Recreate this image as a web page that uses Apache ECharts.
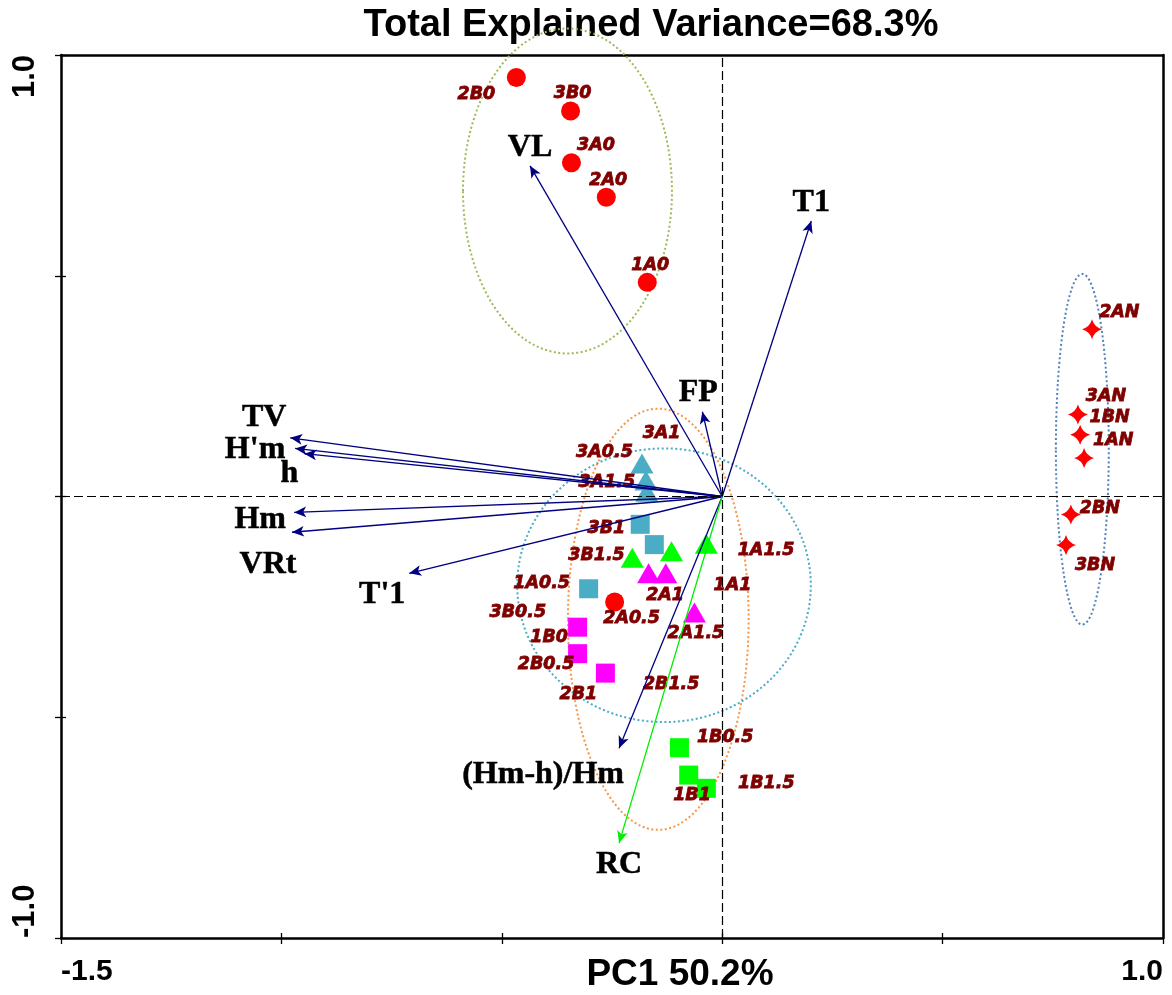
<!DOCTYPE html>
<html>
<head>
<meta charset="utf-8">
<title>PCA biplot</title>
<script src="https://cdn.jsdelivr.net/npm/echarts@6/dist/echarts.min.js"></script>
<style>
  html, body { margin: 0; padding: 0; background: #ffffff; }
  #chart { width: 1172px; height: 995px; }
</style>
</head>
<body>
<div id="chart"></div>
<script>
// ---- sample scores (PC1, PC2) by group ----
const ctrlNames = ['2B0', '3B0', '3A0', '2A0', '1A0', '1B0'];
const ctrlPC1 = [-0.467, -0.344, -0.342, -0.263, -0.170, -0.244];
const ctrlPC2 = [0.949, 0.873, 0.756, 0.678, 0.485, -0.239];

const a3Names = ['3A1', '3A0.5', '3A1.5'];
const a3PC1 = [-0.182, -0.173, -0.171];
const a3PC2 = [0.075, 0.036, 0.011];

const b3Names = ['3B1', '3B1.5', '3B0.5'];
const b3PC1 = [-0.186, -0.154, -0.303];
const b3PC2 = [-0.063, -0.109, -0.209];

const a1Names = ['1A0.5', '1A1', '1A1.5'];
const a1PC1 = [-0.204, -0.115, -0.036];
const a1PC2 = [-0.139, -0.124, -0.107];

const a2Names = ['2A0.5', '2A1', '2A1.5'];
const a2PC1 = [-0.167, -0.128, -0.063];
const a2PC2 = [-0.174, -0.174, -0.263];

const b2Names = ['2B0.5', '2B1', '2B1.5'];
const b2PC1 = [-0.328, -0.328, -0.265];
const b2PC2 = [-0.296, -0.356, -0.400];

const b1Names = ['1B0.5', '1B1', '1B1.5'];
const b1PC1 = [-0.097, -0.076, -0.036];
const b1PC2 = [-0.569, -0.631, -0.661];

const nNames = ['2AN', '3AN', '1BN', '1AN', '2BN', '3BN'];
const nPC1 = [0.839, 0.807, 0.812, 0.821, 0.791, 0.780];
const nPC2 = [0.379, 0.186, 0.140, 0.087, -0.041, -0.110];

// ---- variable loadings ----
const loadingNames = ['VL', 'T1', 'FP', 'TV', "H'm", 'h', 'Hm', 'VRt', "T'1", '(Hm-h)/Hm', 'RC'];
const loadingPC1 = [-0.436, 0.202, -0.045, -0.980, -0.969, -0.948, -0.971, -0.976, -0.710, -0.234, -0.234];
const loadingPC2 = [0.749, 0.624, 0.192, 0.133, 0.109, 0.097, -0.036, -0.081, -0.174, -0.570, -0.785];

// ---- group ellipses (centre and semi-axes, in score units) ----
const ellipseCenterPC1 = [-0.351, -0.145, -0.132, 0.817];
const ellipseCenterPC2 = [0.692, -0.278, -0.201, 0.107];
const ellipseRadiusPC1 = [0.237, 0.205, 0.333, 0.060];
const ellipseRadiusPC2 = [0.368, 0.477, 0.310, 0.397];

// ---- tick labels ----
const xTickValues = [-1.5, 1.0];
const xTickText = ['-1.5', '1.0'];
const yTickValues = [-1.0, 1.0];
const yTickText = ['-1.0', '1.0'];

// ---- text ----
const chartTitle = 'Total Explained Variance=68.3%';
const xAxisTitle = 'PC1 50.2%';
const yAxisTitle = 'PC2 18.1%';

// ---- styling (kept apart from the data) ----
const ellipseColors = ['#9bbb59', '#f79646', '#4bacc6', '#4f81bd'];

// label placement relative to each marker, in pixels
const sampleNudge = {
  '2B0': [-40, 17], '3B0': [2, -17.5], '3A0': [24.5, -17], '2A0': [2, -16.6], '1A0': [3, -16.7], '1B0': [-65.6, 35],
  '3A1': [19.6, -30], '3A0.5': [-41.5, -27.8], '3A1.5': [-40, -8.8],
  '3B1': [-33.8, 3.8], '3B1.5': [-57.8, 11], '3B0.5': [-70.8, 23.4],
  '1A0.5': [-90.6, 26], '1A1': [61, 34], '1A1.5': [59.7, 6.7],
  '2A0.5': [-17, 45.3], '2A1': [-0.7, 21.8], '2A1.5': [1.5, 21.3],
  '2B0.5': [-31.5, 37], '2B1': [0.7, 40.7], '2B1.5': [65.8, 11.3],
  '1B0.5': [45.7, -10], '1B1': [3.3, 20], '1B1.5': [60, -5],
  '2AN': [27.3, -16.6], '3AN': [28, -18], '1BN': [29.5, -17], '1AN': [29.2, -17.7], '2BN': [29, -5.7], '3BN': [29, 20.3]
};
const loadingNudge = {
  'VL': [0, -18], 'T1': [0, -18], 'FP': [-4, -19], 'TV': [-26, -20], "H'm": [-40, 1], 'h': [-15, 20],
  'Hm': [-34, 7.5], 'VRt': [-24, 32], "T'1": [-27, 21], '(Hm-h)/Hm': [-76, 27], 'RC': [0, 22]
};

const STAR = 'path://M0,-10 Q2.2,-2.2 10,0 Q2.2,2.2 0,10 Q-2.2,2.2 -10,0 Q-2.2,-2.2 0,-10 Z';

function pickTick(values, texts) {
  return function (v) {
    for (let i = 0; i < values.length; i++) {
      if (Math.abs(v - values[i]) < 1e-9) return texts[i];
    }
    return '';
  };
}

function points(names, pc1, pc2) {
  return names.map((n, i) => ({ name: n, value: [pc1[i], pc2[i]], label: { offset: sampleNudge[n] } }));
}

const sampleLabel = {
  show: true, position: 'inside', formatter: '{b}', color: '#800000',
  textBorderWidth: 0.8, textBorderColor: '#800000',
  fontFamily: 'DejaVu Sans', fontWeight: 'bold', fontStyle: 'italic', fontSize: 17.5
};

function sampleSeries(name, data, symbol, size, color) {
  return {
    name, type: 'scatter', data, symbol, symbolSize: size,
    itemStyle: { color: color, opacity: 1 },
    label: sampleLabel, z: 3, silent: true
  };
}

const boldSans = { fontFamily: 'Liberation Sans', fontWeight: 'bold', color: '#000' };
const axisLineStyle = { color: '#000', width: 2.5 };
const tickStyle = { color: '#000', width: 1.3 };

const chart = echarts.init(document.getElementById('chart'), null, { renderer: 'canvas' });

chart.setOption({
  animation: false,
  backgroundColor: '#ffffff',
  grid: { left: 61, right: 9, top: 55, bottom: 57, containLabel: false, outerBoundsMode: 'none' },
  xAxis: [
    {
      type: 'value', min: -1.5, max: 1.0, interval: 0.5, position: 'bottom',
      axisLine: { show: true, onZero: false, lineStyle: axisLineStyle },
      axisTick: { show: true, length: 6, lineStyle: tickStyle },
      splitLine: { show: false },
      axisLabel: Object.assign({
        margin: 19, fontSize: 30, formatter: pickTick(xTickValues, xTickText),
        alignMinLabel: 'left', alignMaxLabel: 'right'
      }, boldSans)
    },
    {
      type: 'value', min: -1.5, max: 1.0, interval: 0.5, position: 'bottom',
      axisLine: { show: false, onZero: false },
      axisTick: { show: true, inside: true, length: 5, lineStyle: tickStyle },
      splitLine: { show: false }, axisLabel: { show: false }
    },
    {
      type: 'value', min: -1.5, max: 1.0, interval: 0.5, position: 'top',
      axisLine: { show: true, onZero: false, lineStyle: axisLineStyle },
      axisTick: { show: false }, splitLine: { show: false }, axisLabel: { show: false }
    }
  ],
  yAxis: [
    {
      type: 'value', min: -1.0, max: 1.0, interval: 0.5, position: 'left',
      axisLine: { show: true, onZero: false, lineStyle: axisLineStyle },
      axisTick: { show: true, length: 6, lineStyle: tickStyle },
      splitLine: { show: false },
      axisLabel: Object.assign({
        margin: 20, fontSize: 31, rotate: 90, formatter: pickTick(yTickValues, yTickText),
        alignMinLabel: 'left', alignMaxLabel: 'right'
      }, boldSans),
      name: yAxisTitle, nameLocation: 'middle', nameRotate: 90, nameGap: 8,
      nameTextStyle: Object.assign({ fontSize: 37 }, boldSans)
    },
    {
      type: 'value', min: -1.0, max: 1.0, interval: 0.5, position: 'left',
      axisLine: { show: false, onZero: false },
      axisTick: { show: true, inside: true, length: 5, lineStyle: tickStyle },
      splitLine: { show: false }, axisLabel: { show: false }
    },
    {
      type: 'value', min: -1.0, max: 1.0, interval: 0.5, position: 'right',
      axisLine: { show: true, onZero: false, lineStyle: axisLineStyle },
      axisTick: { show: false }, splitLine: { show: false }, axisLabel: { show: false }
    }
  ],
  graphic: [
    {
      type: 'text', x: 651, y: 26, silent: true,
      style: { text: chartTitle, align: 'center', verticalAlign: 'middle',
        fontFamily: 'Liberation Sans', fontWeight: 'bold', fontSize: 38, fill: '#000' }
    },
    {
      type: 'text', x: 680, y: 975, silent: true,
      style: { text: xAxisTitle, align: 'center', verticalAlign: 'middle',
        fontFamily: 'Liberation Sans', fontWeight: 'bold', fontSize: 37, fill: '#000' }
    }
  ],
  series: [
    // zero reference lines
    {
      type: 'scatter', data: [], z: 0, silent: true,
      markLine: {
        silent: true, symbol: 'none', animation: false,
        label: { show: false },
        lineStyle: { color: '#000', width: 1.2, type: [9, 4] },
        data: [{ xAxis: 0 }, { yAxis: 0 }]
      }
    },
    // group ellipses
    {
      type: 'custom', coordinateSystem: 'cartesian2d', clip: false, silent: true, z: 1,
      data: ellipseCenterPC1.map((x, i) => [x, ellipseCenterPC2[i], ellipseRadiusPC1[i], ellipseRadiusPC2[i], i]),
      encode: { x: 0, y: 1 },
      renderItem: function (params, api) {
        const c = api.coord([api.value(0), api.value(1)]);
        const s = api.size([api.value(2), api.value(3)]);
        return {
          type: 'ellipse',
          shape: { cx: c[0], cy: c[1], rx: s[0], ry: s[1] },
          style: { fill: 'none', stroke: ellipseColors[api.value(4)], lineWidth: 2, lineDash: [2, 2.5] }
        };
      }
    },
    sampleSeries('0', points(ctrlNames, ctrlPC1, ctrlPC2), 'circle', 19, '#ff0000'),
    sampleSeries('3A', points(a3Names, a3PC1, a3PC2), 'triangle', [23, 20], '#4bacc6'),
    sampleSeries('3B', points(b3Names, b3PC1, b3PC2), 'rect', 19, '#4bacc6'),
    sampleSeries('1A', points(a1Names, a1PC1, a1PC2), 'triangle', [23, 20], '#00ff00'),
    sampleSeries('2A', points(a2Names, a2PC1, a2PC2), 'triangle', [23, 20], '#ff00ff'),
    sampleSeries('2B', points(b2Names, b2PC1, b2PC2), 'rect', 19, '#ff00ff'),
    sampleSeries('1B', points(b1Names, b1PC1, b1PC2), 'rect', 19, '#00ff00'),
    sampleSeries('N', points(nNames, nPC1, nPC2), STAR, 20, '#ff0000'),
    // loading vectors
    {
      type: 'lines', coordinateSystem: 'cartesian2d', z: 4, silent: true,
      symbol: ['none', 'arrow'], symbolSize: [0, [8, 12]],
      lineStyle: { width: 1.3, opacity: 1, curveness: 0 },
      data: loadingNames.map((n, i) => ({
        coords: [[0, 0], [loadingPC1[i], loadingPC2[i]]],
        lineStyle: { color: n === 'RC' ? '#00ee00' : '#000080' }
      }))
    },
    // loading names
    {
      type: 'scatter', z: 5, silent: true, symbolSize: 0.1,
      itemStyle: { color: 'rgba(0,0,0,0)' },
      data: loadingNames.map((n, i) => ({ name: n, value: [loadingPC1[i], loadingPC2[i]], label: { offset: loadingNudge[n] } })),
      label: {
        show: true, position: 'inside', formatter: '{b}', color: '#000000',
        textBorderWidth: 0.5, textBorderColor: '#000000', opacity: 1,
        fontFamily: 'Liberation Serif', fontWeight: 'bold', fontSize: 32
      }
    }
  ]
});
</script>
</body>
</html>
